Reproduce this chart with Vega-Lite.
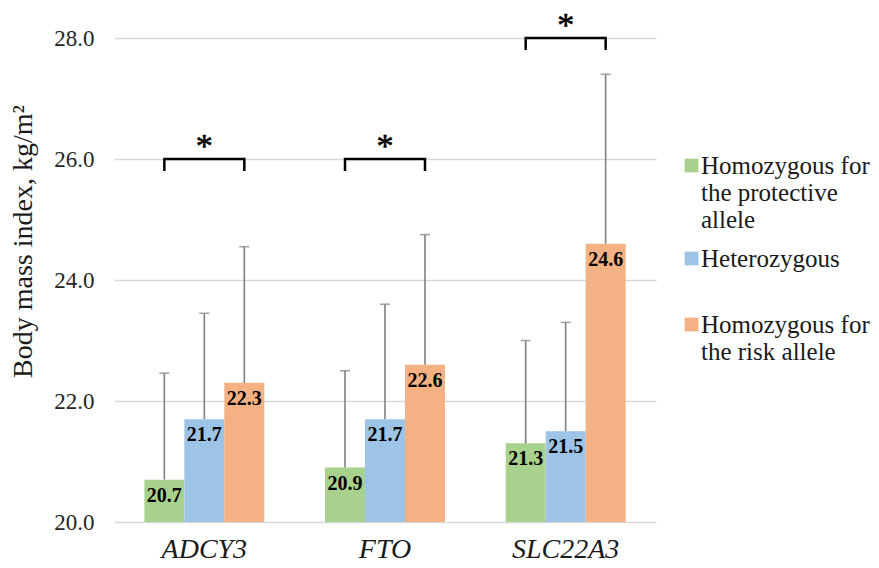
{
  "$schema": "https://vega.github.io/schema/vega-lite/v6.json",
  "autosize": "none",
  "width": 542,
  "height": 484,
  "padding": {"left": 114, "top": 38, "right": 223, "bottom": 46},
  "background": "white",
  "config": {
    "view": {"stroke": null},
    "font": "Liberation Serif"
  },
  "datasets": {
    "bars": [
      {"gene": "ADCY3", "genotype": "Homozygous for the protective allele", "mean": 20.7, "upper": 22.46},
      {"gene": "ADCY3", "genotype": "Heterozygous", "mean": 21.7, "upper": 23.45},
      {"gene": "ADCY3", "genotype": "Homozygous for the risk allele", "mean": 22.3, "upper": 24.55},
      {"gene": "FTO", "genotype": "Homozygous for the protective allele", "mean": 20.9, "upper": 22.5},
      {"gene": "FTO", "genotype": "Heterozygous", "mean": 21.7, "upper": 23.6},
      {"gene": "FTO", "genotype": "Homozygous for the risk allele", "mean": 22.6, "upper": 24.75},
      {"gene": "SLC22A3", "genotype": "Homozygous for the protective allele", "mean": 21.3, "upper": 23.0},
      {"gene": "SLC22A3", "genotype": "Heterozygous", "mean": 21.5, "upper": 23.3},
      {"gene": "SLC22A3", "genotype": "Homozygous for the risk allele", "mean": 24.6, "upper": 27.4}
    ],
    "brackets": [
      {"gene": "ADCY3", "genotype": "Homozygous for the protective allele", "y": 25.8, "ord": 1},
      {"gene": "ADCY3", "genotype": "Homozygous for the protective allele", "y": 26.0, "ord": 2},
      {"gene": "ADCY3", "genotype": "Homozygous for the risk allele", "y": 26.0, "ord": 3},
      {"gene": "ADCY3", "genotype": "Homozygous for the risk allele", "y": 25.8, "ord": 4},
      {"gene": "FTO", "genotype": "Homozygous for the protective allele", "y": 25.8, "ord": 1},
      {"gene": "FTO", "genotype": "Homozygous for the protective allele", "y": 26.0, "ord": 2},
      {"gene": "FTO", "genotype": "Homozygous for the risk allele", "y": 26.0, "ord": 3},
      {"gene": "FTO", "genotype": "Homozygous for the risk allele", "y": 25.8, "ord": 4},
      {"gene": "SLC22A3", "genotype": "Homozygous for the protective allele", "y": 27.8, "ord": 1},
      {"gene": "SLC22A3", "genotype": "Homozygous for the protective allele", "y": 28.0, "ord": 2},
      {"gene": "SLC22A3", "genotype": "Homozygous for the risk allele", "y": 28.0, "ord": 3},
      {"gene": "SLC22A3", "genotype": "Homozygous for the risk allele", "y": 27.8, "ord": 4}
    ],
    "stars": [
      {"gene": "ADCY3", "level": 26.0, "sig": "*"},
      {"gene": "FTO", "level": 26.0, "sig": "*"},
      {"gene": "SLC22A3", "level": 28.0, "sig": "*"}
    ]
  },
  "encoding": {
    "x": {
      "field": "gene", "type": "nominal", "sort": ["ADCY3", "FTO", "SLC22A3"],
      "scale": {"paddingInner": 0.336, "paddingOuter": 0.168},
      "axis": {
        "title": null, "labelAngle": 0, "domain": false, "ticks": false,
        "labelFont": "Liberation Serif", "labelFontStyle": "italic", "labelFontSize": 28,
        "labelColor": "#1a1a1a", "labelPadding": 13, "zindex": 1
      }
    },
    "xOffset": {
      "field": "genotype", "type": "nominal",
      "sort": ["Homozygous for the protective allele", "Heterozygous", "Homozygous for the risk allele"],
      "scale": {"paddingInner": 0, "paddingOuter": 0}
    }
  },
  "layer": [
    {
      "data": {"name": "bars"},
      "mark": {"type": "bar"},
      "encoding": {
        "y": {
          "field": "mean", "type": "quantitative",
          "scale": {"domain": [20, 28], "nice": false, "zero": false},
          "axis": {
            "title": "Body mass index, kg/m²", "values": [20, 22, 24, 26, 28], "format": ".1f",
            "domain": false, "ticks": false, "gridColor": "#d9d9d9", "gridWidth": 1.3,
            "labelFont": "Liberation Serif", "labelFontSize": 23, "labelColor": "#262626", "labelPadding": 20,
            "titleFont": "Liberation Serif", "titleFontSize": 28, "titleFontWeight": "normal", "titleColor": "#1a1a1a",
            "titleX": -77, "titleY": 203
          }
        },
        "y2": {"datum": 20},
        "color": {
          "field": "genotype", "type": "nominal",
          "sort": ["Homozygous for the protective allele", "Heterozygous", "Homozygous for the risk allele"],
          "scale": {
            "domain": ["Homozygous for the protective allele", "Heterozygous", "Homozygous for the risk allele"],
            "range": ["#a9d18e", "#9dc3e6", "#f4b183"]
          },
          "legend": {
            "title": null, "orient": "none", "legendX": 565, "legendY": 115,
            "symbolType": "square", "symbolSize": 190, "symbolStrokeWidth": 0, "symbolOpacity": 1,
            "labelFont": "Liberation Serif", "labelFontSize": 25, "labelColor": "#1a1a1a",
            "labelLimit": 400, "labelOffset": -3, "rowPadding": 13, "padding": 0,
            "labelExpr": "datum.label == 'Homozygous for the protective allele' ? ['Homozygous  for', 'the protective', 'allele'] : datum.label == 'Heterozygous' ? ['Heterozygous', ''] : ['Homozygous for', 'the risk allele']"
          }
        }
      }
    },
    {
      "data": {"name": "bars"},
      "mark": {"type": "rule", "color": "#808080", "strokeWidth": 1.6},
      "encoding": {
        "y": {"field": "mean", "type": "quantitative"},
        "y2": {"field": "upper"}
      }
    },
    {
      "data": {"name": "bars"},
      "mark": {"type": "tick", "color": "#808080", "thickness": 1.6, "size": 10, "orient": "horizontal"},
      "encoding": {
        "y": {"field": "upper", "type": "quantitative"}
      }
    },
    {
      "data": {"name": "bars"},
      "mark": {"type": "text", "baseline": "top", "dy": 6, "font": "Liberation Serif", "fontWeight": "bold", "fontSize": 20, "color": "black"},
      "encoding": {
        "y": {"field": "mean", "type": "quantitative"},
        "text": {"field": "mean", "type": "quantitative", "format": ".1f"}
      }
    },
    {
      "data": {"name": "brackets"},
      "mark": {"type": "line", "color": "black", "strokeWidth": 2.5, "strokeCap": "butt", "strokeJoin": "miter"},
      "encoding": {
        "y": {"field": "y", "type": "quantitative"},
        "detail": {"field": "gene"},
        "order": {"field": "ord", "type": "quantitative"}
      }
    },
    {
      "data": {"name": "stars"},
      "mark": {"type": "text", "baseline": "alphabetic", "dy": -2, "font": "Liberation Serif", "fontSize": 34, "color": "black", "stroke": "black", "strokeWidth": 0.6},
      "encoding": {
        "xOffset": null,
        "y": {"field": "level", "type": "quantitative"},
        "text": {"field": "sig"}
      }
    }
  ]
}
